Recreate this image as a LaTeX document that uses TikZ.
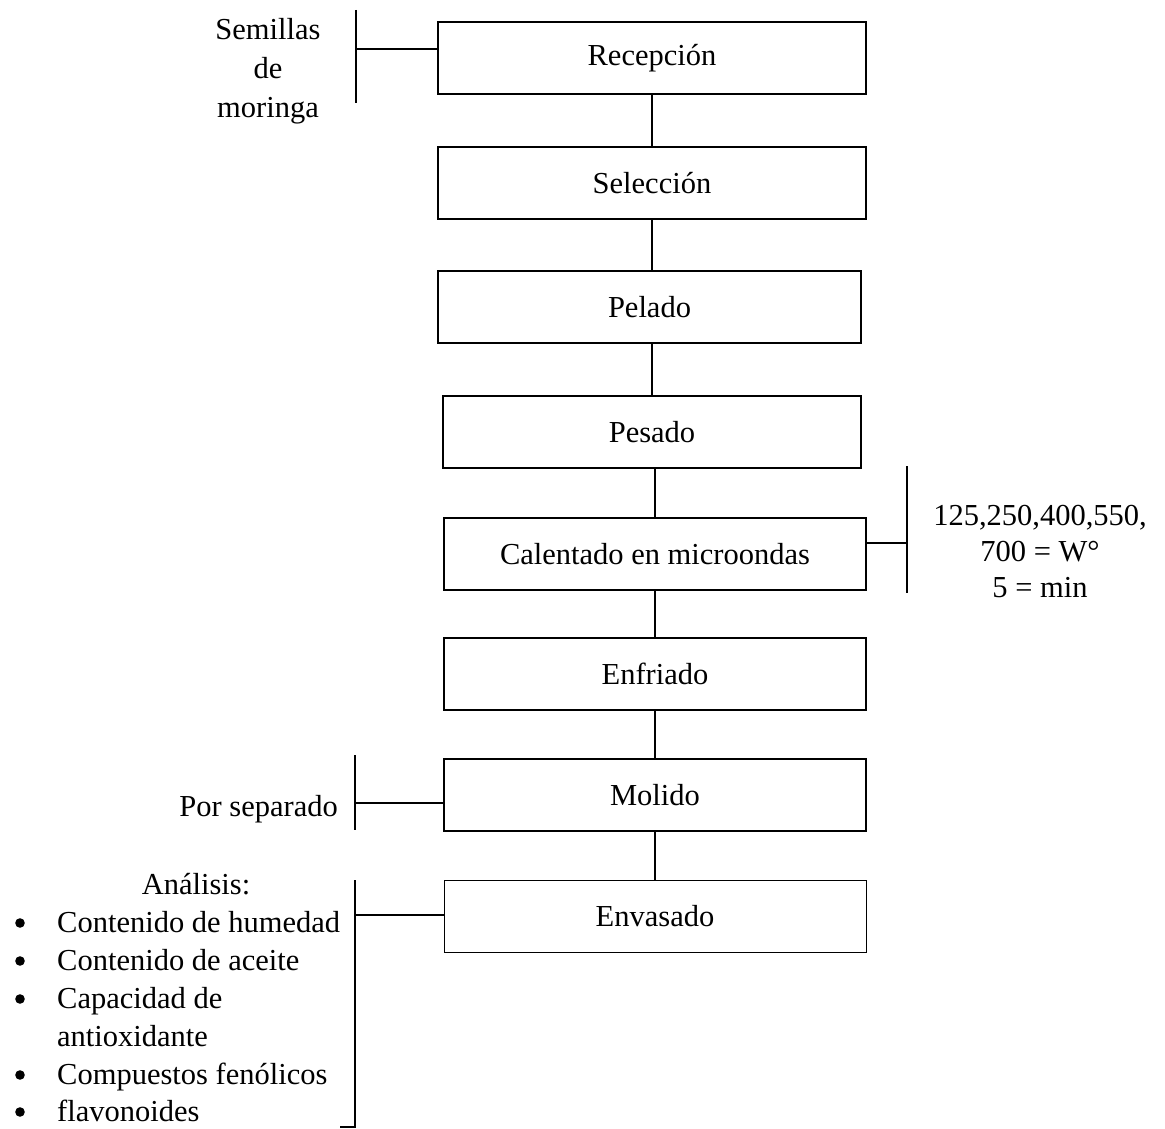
\documentclass[tikz,border=0pt]{standalone}
\usepackage{fontspec}
\setmainfont{Liberation Serif}
\begin{document}
\begin{tikzpicture}[x=1pt,y=-1pt,
  every node/.style={font=\fontsize{30.5}{39}\selectfont, inner sep=0pt},
  stepbox/.style={draw, line width=1.6pt, minimum height=72pt, align=center},
  thinbox/.style={draw, line width=0.9pt, minimum height=72pt, align=center},
  link/.style={line width=1.6pt},
  txt/.style={anchor=base}]
\useasboundingbox (0,0) rectangle (1165,1129);

% process boxes
\node[stepbox, minimum width=428pt] (rec) at (652,58) {Recepción};
\node[stepbox, minimum width=428pt] (sel) at (652,183) {Selección};
\node[stepbox, minimum width=423pt] (pel) at (649.5,307) {Pelado};
\node[stepbox, minimum width=418pt] (pes) at (652,432) {Pesado};
\node[stepbox, minimum width=422pt] (cal) at (655,554) {Calentado en microondas};
\node[stepbox, minimum width=422pt] (enf) at (655,674) {Enfriado};
\node[stepbox, minimum width=422pt] (mol) at (655,795) {Molido};
\node[thinbox, minimum width=422pt] (env) at (655,916) {Envasado};

% vertical connectors
\draw[link] (rec.south) -- (sel.north);
\draw[link] (sel.south) -- (sel.south |- pel.north);
\draw[link] (pes.north |- pel.south) -- (pes.north);
\draw[link] (cal.north |- pes.south) -- (cal.north);
\draw[link] (cal.south) -- (enf.north);
\draw[link] (enf.south) -- (mol.north);
\draw[link] (mol.south) -- (env.north);

% Semillas de moringa
\coordinate (s1) at (356,10);
\coordinate (s2) at (356,103);
\coordinate (sj) at (356,49);
\draw[link] (s1) -- (s2);
\draw[link] (sj) -- (sj -| rec.west);
\node[align=center] (sem) at (268,71) {Semillas\\de\\moringa};

% microwave conditions
\coordinate (m1) at (907,466);
\coordinate (m2) at (907,593);
\coordinate (mj) at (907,543);
\draw[link] (m1) -- (m2);
\draw[link] (cal.east |- mj) -- (mj);
\node[align=center, font=\fontsize{30.5}{36}\selectfont] (cond) at (1040,552) {125,250,400,550,\\700 = W°\\5 = min};

% Por separado
\coordinate (p1) at (355,755);
\coordinate (p2) at (355,830);
\coordinate (pj) at (355,803);
\draw[link] (p1) -- (p2);
\draw[link] (pj) -- (pj -| mol.west);
\node[anchor=base east] (sep) at (338,816) {Por separado};

% Analisis
\coordinate (a1) at (355,880);
\coordinate (a2) at (355,1127);
\coordinate (a3) at (340,1127);
\coordinate (aj) at (355,915);
\draw[link] (a1) -- (a2) -- (a3);
\draw[link] (aj) -- (aj -| env.west);
\node[txt] (ana) at (196,894) {Análisis:};
\node[txt, anchor=base west] (l1) at (57,932) {Contenido de humedad};
\node[txt, anchor=base west] (l2) at (57,970) {Contenido de aceite};
\node[txt, anchor=base west] (l3) at (57,1008) {Capacidad de};
\node[txt, anchor=base west] (l4) at (57,1046) {antioxidante};
\node[txt, anchor=base west] (l5) at (57,1084) {Compuestos fenólicos};
\node[txt, anchor=base west] (l6) at (57,1121) {flavonoides};
\foreach \y/\n in {923/b1,961/b2,999/b3,1075/b5,1112/b6}
  \fill (20,\y) circle (4.8pt) coordinate (\n);
\end{tikzpicture}
\end{document}
